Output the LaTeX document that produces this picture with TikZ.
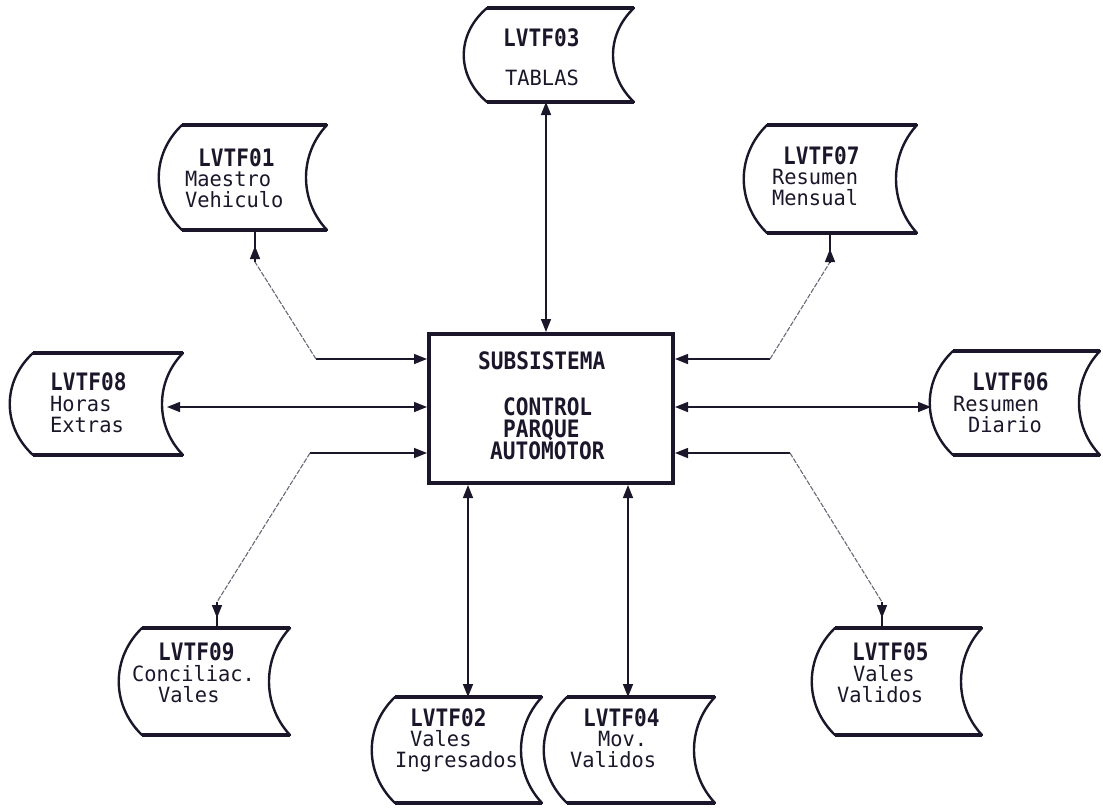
\documentclass[tikz,border=0pt]{standalone}
\usepackage{fontspec}
\usetikzlibrary{arrows.meta,calc}
\newfontfamily\tbf[FakeStretch=0.88]{DejaVu Sans Mono}
\newfontfamily\trg[FakeStretch=0.97]{DejaVu Sans Mono}
\definecolor{ink}{RGB}{28,22,42}
\newcommand{\tb}{\tbf\bfseries\fontsize{24}{24}\selectfont}
% stacked lines with a fixed baseline pitch; #1 pitch, #2 the \hbox lines
\newcommand{\stackl}[2]{\vtop{\baselineskip=#1\lineskiplimit=-1000pt\lineskip=0pt #2}}
\tikzset{
  curveline/.style={line width=2.4pt, draw=ink, line cap=round},
  flatline/.style={line width=3.4pt, draw=ink},
  stx/.style={anchor=base west, inner sep=0pt, font=\trg\fontsize{21}{21}\selectfont, text=ink},
  conn/.style={line width=1.5pt, draw=ink},
  diag/.style={line width=1.1pt, draw=ink!65, dash pattern=on 5pt off 1.5pt},
  tipend/.style={-{Triangle[length=13pt,width=10pt]}},
  tipboth/.style={{Triangle[length=13pt,width=10pt]}-{Triangle[length=13pt,width=10pt]}},
  mainbox/.style={draw=ink, line width=4pt, minimum width=244pt, minimum height=149pt, inner sep=0pt, fill=white},
}
% #1 x0 (top-left), #2 x1 (top-right), #3 y0 (top), #4 y1 (bottom)
\newcommand{\storeshape}[4]{%
  \pgfmathsetmacro\hh{(#4-#3)*0.28}%
  \draw[curveline] (#2,#3) .. controls ({#2-28},{#3+\hh}) and ({#2-28},{#4-\hh}) .. (#2,#4);
  \draw[curveline] (#1,#4) .. controls ({#1-31},{#4-\hh}) and ({#1-31},{#3+\hh}) .. (#1,#3);
  \draw[flatline] (#1,#3) -- (#2,#3);
  \draw[flatline] (#1,#4) -- (#2,#4);
}
\begin{document}
\begin{tikzpicture}[x=1pt,y=-1pt]
\useasboundingbox (0,0) rectangle (1103,807);

% ---- central box
\node[mainbox] (box) at (551,408.5) {};
\node[stx] (ctitle) at (478,369) {\tb SUBSISTEMA};
\node[stx] (cbody) at (490,415) {\stackl{22pt}{\hbox{\kern13pt\tb CONTROL}\hbox{\kern13pt\tb PARQUE}\hbox{\tb AUTOMOTOR}}};

% ---- stores
\storeshape{487}{634}{8}{102}
\node[stx] (n03) at (503,46) {\stackl{39pt}{\hbox{\tb LVTF03}\hbox{\kern2pt TABLAS}}};

\storeshape{182}{327}{125}{230}
\node[stx] (n01) at (185,166) {\stackl{20.5pt}{\hbox{\kern13pt\tb LVTF01}\hbox{Maestro}\hbox{Vehiculo}}};

\storeshape{767}{917}{125}{233}
\node[stx] (n07) at (772,164) {\stackl{20.5pt}{\hbox{\kern11pt\tb LVTF07}\hbox{Resumen}\hbox{Mensual}}};

\storeshape{33}{183}{353}{455}
\node[stx] (n08) at (50,390) {\stackl{21pt}{\hbox{\tb LVTF08}\hbox{Horas}\hbox{Extras}}};

\storeshape{953}{1100}{351}{455}
\node[stx] (n06) at (953,390) {\stackl{21pt}{\hbox{\kern19pt\tb LVTF06}\hbox{Resumen}\hbox{\kern15pt Diario}}};

\storeshape{142}{290}{628}{735}
\node[stx] (n09) at (132,660) {\stackl{21pt}{\hbox{\kern26pt\tb LVTF09}\hbox{Conciliac.}\hbox{\kern26pt Vales}}};

\storeshape{835}{982}{628}{735}
\node[stx] (n05) at (837,660) {\stackl{21pt}{\hbox{\kern15pt\tb LVTF05}\hbox{\kern16pt Vales}\hbox{Validos}}};

\storeshape{395}{542}{697}{803}
\node[stx] (n02) at (395,726) {\stackl{20.5pt}{\hbox{\kern15pt\tb LVTF02}\hbox{\kern15pt Vales}\hbox{Ingresados}}};

\storeshape{567}{715}{697}{803}
\node[stx] (n04) at (570,726) {\stackl{20.5pt}{\hbox{\kern13pt\tb LVTF04}\hbox{\kern28pt Mov.}\hbox{Validos}}};

% ---- attachment points on the stores
\coordinate (s03b) at (546,102);
\coordinate (s01b) at (255,230);
\coordinate (s07b) at (830,233);
\coordinate (s08r) at (167,407);
\coordinate (s06l) at (931,407);
\coordinate (s09t) at (217,628);
\coordinate (s05t) at (882,628);
\coordinate (s02t) at (468,697);
\coordinate (s04t) at (628,697);

% bends
\coordinate (k01) at (316,359);
\coordinate (t01) at (255,262);
\coordinate (k07) at (770,359);
\coordinate (t07) at (830,262);
\coordinate (k09) at (310,453);
\coordinate (t09) at (217,602);
\coordinate (k05) at (790,453);
\coordinate (t05) at (882,602);

% ---- connectors
\draw[conn,tipboth] (s03b) -- (s03b |- box.north);
\draw[conn,tipboth] (s02t) -- (s02t |- box.south);
\draw[conn,tipboth] (s04t) -- (s04t |- box.south);
\draw[conn,tipboth] (s08r) -- (s08r -| box.west);
\draw[conn,tipboth] (s06l) -- (s06l -| box.east);

\draw[conn,tipend] (k01) -- (k01 -| box.west);
\draw[diag] (k01) -- (t01);
\draw[conn] (t01) -- (s01b);
\draw[conn,tipend,shorten >=16pt] (t01) -- (s01b);

\draw[conn,tipend] (k07) -- (k07 -| box.east);
\draw[diag] (k07) -- (t07);
\draw[conn] (t07) -- (s07b);
\draw[conn,tipend,shorten >=16pt] (t07) -- (s07b);

\draw[conn,tipend] (k09) -- (k09 -| box.west);
\draw[diag] (k09) -- (t09);
\draw[conn] (t09) -- (s09t);
\draw[conn,tipend,shorten >=10pt] (t09) -- (s09t);

\draw[conn,tipend] (k05) -- (k05 -| box.east);
\draw[diag] (k05) -- (t05);
\draw[conn] (t05) -- (s05t);
\draw[conn,tipend,shorten >=10pt] (t05) -- (s05t);
\end{tikzpicture}
\end{document}
